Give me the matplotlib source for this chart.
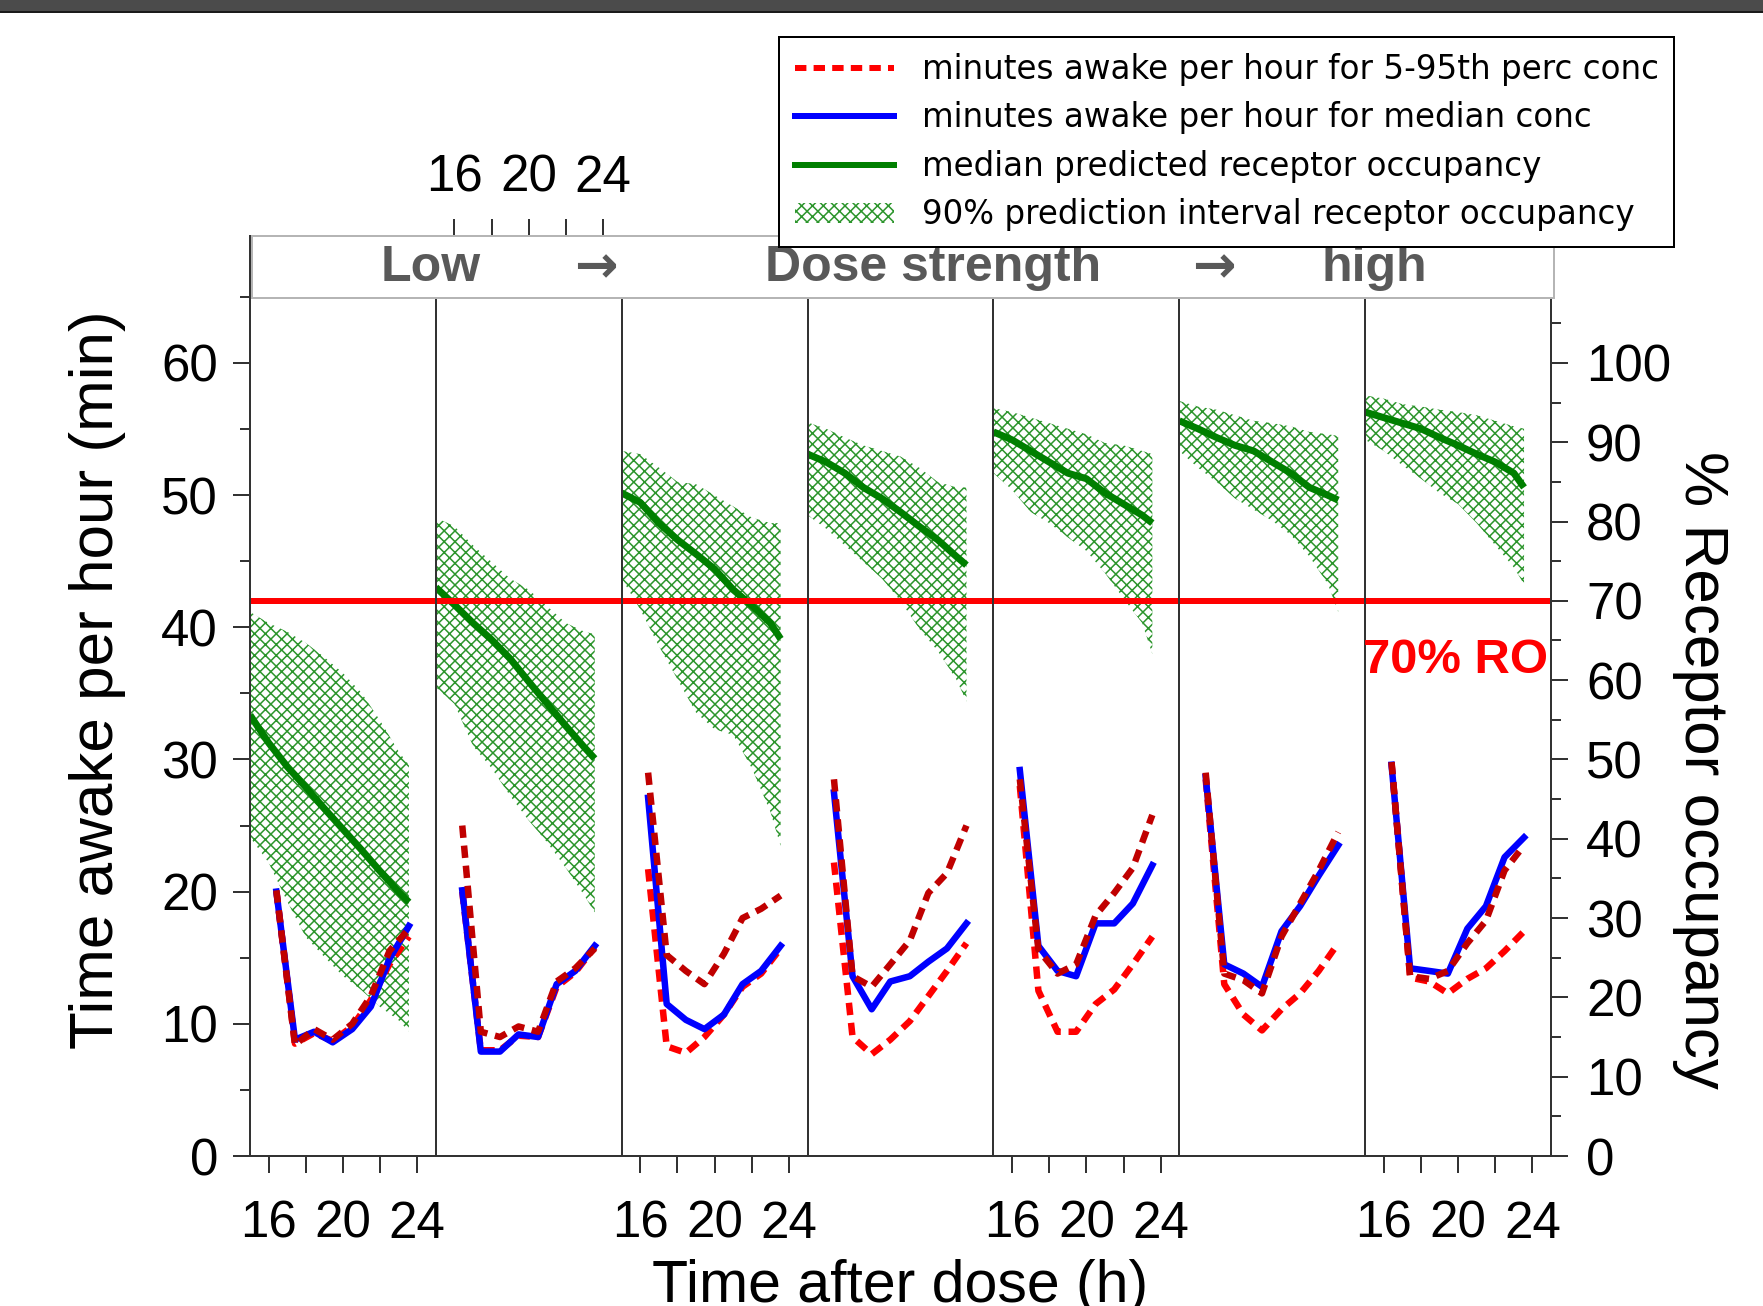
import matplotlib
matplotlib.use("Agg")
import matplotlib.pyplot as plt
from matplotlib.lines import Line2D
from matplotlib.patches import Patch, Rectangle

plt.rcParams['font.family'] = ['Liberation Sans', 'DejaVu Sans']
plt.rcParams['hatch.linewidth'] = 0.85

# ---------------- data ----------------
times = [16.42, 17.42, 18.45, 19.45, 20.5, 21.5, 22.5, 23.55]
ro_times = [15, 16, 17, 18, 19, 20, 21, 22, 23, 23.55]

# minutes awake per hour, median concentration (blue)
awake_median = [
    [20.0, 8.8, 9.4, 8.6, 9.6, 11.3, 14.9, 17.4],
    [20.1, 7.9, 7.9, 9.2, 9.0, 13.0, 14.0, 15.9],
    [27.1, 11.5, 10.3, 9.6, 10.7, 13.0, 14.0, 15.9],
    [27.5, 13.6, 11.1, 13.2, 13.6, 14.7, 15.7, 17.6],
    [29.2, 15.9, 14.0, 13.6, 17.6, 17.6, 19.1, 22.0],
    [28.7, 14.5, 13.8, 12.8, 17.0, 18.9, 21.2, 23.5],
    [29.6, 14.2, 14.0, 13.8, 17.2, 18.9, 22.6, 24.1],
]
# minutes awake per hour, 95th percentile concentration (dark red dashed)
awake_p95 = [
    [20.1, 8.4, 9.6, 8.8, 10.0, 12.1, 15.5, 17.2],
    [25.0, 9.4, 9.0, 9.8, 9.4, 13.2, 14.2, 15.7],
    [29.0, 15.2, 14.0, 13.0, 15.3, 18.0, 18.7, 19.7],
    [28.5, 13.6, 12.8, 14.5, 16.3, 19.9, 21.4, 25.0],
    [28.5, 15.6, 13.8, 14.5, 18.2, 19.9, 21.8, 25.8],
    [29.0, 13.8, 13.3, 12.3, 16.6, 19.1, 21.6, 24.5],
    [29.8, 13.6, 13.4, 14.0, 16.1, 17.8, 21.6, 23.5],
]
# minutes awake per hour, 5th percentile concentration (red dashed)
awake_p5 = [
    [20.0, 8.5, 9.3, 8.7, 9.8, 11.8, 14.5, 16.6],
    [20.0, 8.0, 8.0, 9.1, 9.0, 12.8, 13.9, 15.8],
    [21.7, 8.3, 7.8, 9.0, 10.7, 12.8, 13.8, 15.7],
    [22.2, 9.0, 7.7, 8.8, 10.2, 12.1, 14.0, 16.1],
    [28.0, 12.5, 9.4, 9.4, 11.5, 12.6, 14.5, 16.6],
    [28.5, 13.0, 10.7, 9.5, 11.1, 12.3, 14.0, 16.1],
    [29.8, 13.5, 13.2, 12.3, 13.4, 14.2, 15.5, 17.0],
]
# receptor occupancy (%)
ro_median = [
    [55.6, 52.1, 49.1, 46.5, 43.8, 41.2, 38.6, 35.9, 33.3, 32.0],
    [71.7, 69.5, 67.2, 65.1, 62.7, 59.8, 57.0, 54.2, 51.5, 50.1],
    [83.6, 82.4, 79.8, 77.7, 75.9, 74.0, 71.4, 69.4, 67.2, 65.2],
    [88.5, 87.5, 86.1, 84.3, 82.9, 81.2, 79.4, 77.7, 75.6, 74.5],
    [91.3, 90.3, 88.9, 87.5, 86.1, 85.4, 83.6, 82.2, 80.8, 79.8],
    [92.7, 91.7, 90.6, 89.6, 88.9, 87.5, 86.1, 84.3, 83.3, 82.7],
    [93.8, 93.1, 92.4, 91.7, 90.6, 89.6, 88.5, 87.5, 86.1, 84.3],
]
ro_upper = [
    [68.6, 67.2, 66.1, 64.7, 62.9, 60.9, 58.4, 54.9, 51.0, 49.3],
    [80.5, 79.4, 77.0, 74.9, 72.8, 71.4, 69.3, 67.2, 66.1, 65.8],
    [88.9, 88.5, 86.8, 85.0, 84.7, 83.3, 81.9, 80.5, 79.8, 79.8],
    [92.5, 91.7, 90.6, 89.6, 88.9, 88.2, 86.8, 85.0, 84.3, 84.3],
    [94.3, 93.8, 93.1, 92.4, 91.7, 91.0, 89.9, 89.6, 88.9, 88.5],
    [95.2, 94.5, 94.1, 93.4, 92.7, 92.4, 92.0, 91.3, 91.0, 90.8],
    [95.9, 95.5, 94.8, 94.5, 94.1, 93.8, 93.4, 92.7, 92.0, 91.7],
]
ro_lower = [
    [40.2, 37.0, 32.1, 27.6, 25.1, 22.7, 20.9, 18.8, 17.1, 15.7],
    [59.1, 57.0, 51.7, 48.9, 45.4, 42.3, 39.5, 36.3, 32.8, 30.7],
    [72.8, 68.9, 64.3, 60.1, 55.9, 53.8, 53.1, 48.9, 43.4, 39.1],
    [80.8, 79.1, 77.0, 74.9, 72.8, 70.0, 66.5, 63.7, 60.1, 57.3],
    [86.1, 84.0, 81.2, 79.8, 78.0, 76.3, 73.5, 70.3, 67.2, 63.3],
    [88.9, 86.8, 85.0, 82.9, 81.5, 80.1, 78.3, 75.6, 72.1, 68.6],
    [90.3, 88.9, 87.1, 85.4, 83.6, 82.2, 79.8, 77.0, 74.2, 72.1],
]
ro_threshold = 70
x_ticks = [16, 18, 20, 22, 24]
x_ticklabels = ['16', '', '20', '', '24']
legend_labels = [
    'minutes awake per hour for 5-95th perc conc',
    'minutes awake per hour for median conc',
    'median predicted receptor occupancy',
    '90% prediction interval receptor occupancy',
]
banner_words = ['Low', '\u2192', 'Dose strength', '\u2192', 'high']

# ---------------- layout ----------------
W, H, DPI = 1763, 1306, 130
PT = 72.0 / DPI  # points per pixel


def fx(p):
    return p / W


def fy(p):
    return 1 - p / H


fig = plt.figure(figsize=(W / DPI, H / DPI), dpi=DPI)
fig.patch.set_facecolor('white')

# dark strip at the very top (screenshot frame)
fig.patches.append(Rectangle((0, fy(11)), 1, 11 / H, transform=fig.transFigure,
                             facecolor='#4b4b4b', edgecolor='none'))
fig.patches.append(Rectangle((0, fy(13)), 1, 2 / H, transform=fig.transFigure,
                             facecolor='#1a1a1a', edgecolor='none'))

L, R, T, B = 250, 1551, 236, 1156
pw = (R - L) / 7.0
YMAX_MIN = 69.6
YMAX_RO = YMAX_MIN / 0.6

GREEN = '#007f00'
HATCH_GREEN = '#2c952c'
BLUE = '#0000ff'
DARKRED = '#c00000'
RED = '#ff0000'
SPINE = '#333333'
DASH = (0, (1.9, 1.2))

tick_kw = dict(length=17 * PT, width=2 * PT, color=SPINE, labelsize=51 * PT,
               direction='out')

for i in range(7):
    ax = fig.add_axes([fx(L + i * pw), fy(B), pw / W, (B - T) / H])
    ax2 = ax.twinx()
    ax.set_zorder(ax2.get_zorder() + 1)
    ax.patch.set_visible(False)

    ax.set_xlim(15, 25)
    ax.set_ylim(0, YMAX_MIN)
    ax2.set_ylim(0, YMAX_RO)

    # receptor occupancy band + median
    ax2.fill_between(ro_times, ro_lower[i], ro_upper[i], facecolor='none',
                     edgecolor=HATCH_GREEN, hatch='xxxx', linewidth=0)
    ax2.plot(ro_times, ro_median[i], color=GREEN, lw=7 * PT,
             solid_capstyle='butt')
    ax2.axhline(ro_threshold, color=RED, lw=6 * PT)

    # minutes awake
    ax.plot(times, awake_p5[i], color=RED, lw=6.5 * PT, ls=DASH)
    ax.plot(times, awake_median[i], color=BLUE, lw=6.5 * PT)
    ax.plot(times, awake_p95[i], color=DARKRED, lw=6.5 * PT, ls=DASH)

    # spines
    for a in (ax, ax2):
        for s in a.spines.values():
            s.set_visible(False)
    for side in ('left', 'bottom'):
        ax.spines[side].set_visible(True)
        ax.spines[side].set_color(SPINE)
        ax.spines[side].set_linewidth(2 * PT)
    if i == 6:
        ax2.spines['right'].set_visible(True)
        ax2.spines['right'].set_color(SPINE)
        ax2.spines['right'].set_linewidth(2 * PT)

    # x ticks
    ax.set_xticks(x_ticks)
    ax.set_xticklabels(x_ticklabels)
    ax.tick_params(axis='x', **tick_kw)
    if i % 2 == 0:
        ax.tick_params(axis='x', bottom=True, top=False, labelbottom=True,
                       labeltop=False, pad=27 * PT)
    elif i == 1:
        ax.tick_params(axis='x', bottom=False, top=True, labelbottom=False,
                       labeltop=True, pad=16 * PT)
    else:
        # top ticks of these panels sit beneath the legend box
        ax.tick_params(axis='x', bottom=False, top=False, labelbottom=False,
                       labeltop=False)

    # y ticks
    if i == 0:
        ax.set_yticks(range(0, 61, 10))
        ax.set_yticks(range(5, 70, 10), minor=True)
        ax.tick_params(axis='y', which='major', **tick_kw, pad=15 * PT)
        ax.tick_params(axis='y', which='minor', length=10 * PT, width=2 * PT,
                       color=SPINE)
    else:
        ax.set_yticks([])
        ax.set_yticks([], minor=True)
    if i == 6:
        ax2.set_yticks(range(0, 101, 10))
        ax2.set_yticks(range(5, 116, 10), minor=True)
        ax2.tick_params(axis='y', which='major', **tick_kw, pad=18 * PT)
        ax2.tick_params(axis='y', which='minor', length=10 * PT, width=2 * PT,
                        color=SPINE)
    else:
        ax2.set_yticks([])
        ax2.set_yticks([], minor=True)

# banner "Low -> Dose strength -> high"
bax = fig.add_axes([fx(252), fy(298), (1554 - 252) / W, 62 / H])
bax.set_zorder(10)
bax.set_xticks([])
bax.set_yticks([])
bax.set_facecolor('white')
for s in bax.spines.values():
    s.set_color('#b5b5b5')
    s.set_linewidth(2 * PT)
banner_x = [431, 596, 933, 1214, 1374]
for word, xp in zip(banner_words, banner_x):
    if word == '\u2192':
        fig.text(fx(xp), fy(268), word, ha='center', va='center',
                 fontsize=52 * PT, fontweight='bold', color='#595959',
                 family='DejaVu Sans', zorder=11)
    else:
        fig.text(fx(xp), fy(268), word, ha='center', va='center',
                 fontsize=50 * PT, fontweight='bold', color='#595959',
                 zorder=11)

# 70% RO label
fig.text(fx(1548), fy(673), '70% RO', ha='right', va='baseline',
         fontsize=49 * PT, fontweight='bold', color=RED)

# axis titles
fig.text(fx(98), fy(680), 'Time awake per hour (min)', rotation=90,
         ha='center', va='center', fontsize=62 * PT)
fig.text(fx(1700), fy(770), '% Receptor occupancy', rotation=-90,
         ha='center', va='center', fontsize=62 * PT)
fig.text(fx(900), fy(1302), 'Time after dose (h)', ha='center',
         va='baseline', fontsize=59 * PT)

# legend
handles = [
    Line2D([], [], color=RED, lw=6 * PT, ls=DASH),
    Line2D([], [], color=BLUE, lw=6 * PT),
    Line2D([], [], color=GREEN, lw=6 * PT),
    Patch(facecolor='none', edgecolor=HATCH_GREEN, hatch='xxxx', linewidth=0),
]
leg = fig.legend(handles, legend_labels, loc='upper left',
                 bbox_to_anchor=(fx(779), fy(37)), borderaxespad=0,
                 frameon=True, fancybox=False, framealpha=1,
                 edgecolor='black', prop={'family': 'DejaVu Sans',
                                          'size': 32.5 * PT},
                 handlelength=3.05, handletextpad=0.86, labelspacing=0.48,
                 borderpad=0.48, handleheight=0.6)
leg.get_frame().set_linewidth(2 * PT)
leg.set_zorder(20)

fig.savefig('out.png', dpi=DPI)
